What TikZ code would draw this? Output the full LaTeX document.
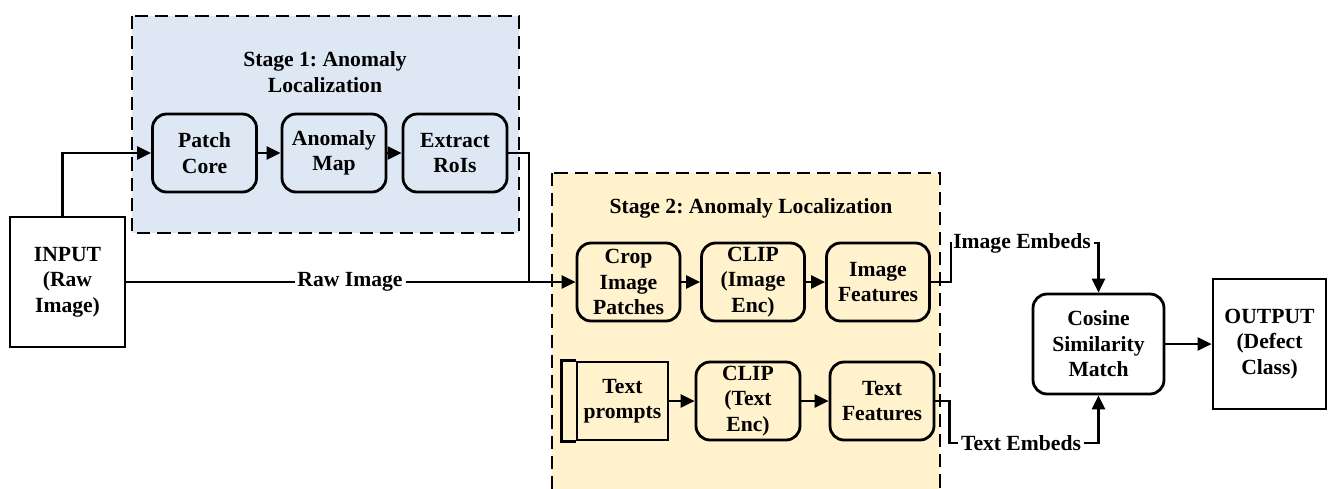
\documentclass[tikz,border=0pt]{standalone}
\usepackage{fontspec}
\setmainfont{Liberation Serif}[BoldFont={Liberation Serif Bold}]
\usetikzlibrary{arrows.meta,calc}
\definecolor{stageblue}{HTML}{DEE8F4}
\definecolor{stageyellow}{HTML}{FFF2CC}
\frenchspacing

\begin{document}
\begin{tikzpicture}[x=0.02cm,y=-0.02cm,
  font=\rmfamily\fontsize{12.3}{14.5}\selectfont\bfseries,
  stagebox/.style={draw, line width=1.3pt, dash pattern=on 7.5pt off 4pt},
  procbox/.style={draw, line width=1.6pt, rounded corners=0.28cm, align=center,
    minimum width=2.08cm, minimum height=1.56cm, inner sep=1pt},
  iobox/.style={draw, line width=1.6pt, fill=white, align=center,
    minimum width=2.3cm, minimum height=2.6cm, inner sep=1pt},
  lbl/.style={inner sep=1.5pt},
  link/.style={line width=1.3pt},
  arr/.style={link, -{Triangle[length=8pt,width=7.5pt]}},
]
\useasboundingbox (0,0) rectangle (1328,488);

% stage frames
\draw[stagebox, fill=stageblue] (132,16) rectangle (519,233);
\draw[stagebox, fill=stageyellow] (552,173) rectangle (940,500);

\node[align=center] (t1) at (325,72) {Stage 1: Anomaly\\Localization};
\node (t2) at (751,208) {Stage 2: Anomaly Localization};

% input / output
\node[iobox] (in) at (67.5,282) {INPUT\\(Raw\\Image)};
\node[iobox, minimum width=2.26cm] (out) at (1269.5,344) {OUTPUT\\(Defect\\Class)};

% stage 1 pipeline
\node[procbox] (pc)  at (204.5,153) {Patch\\Core};
\node[procbox] (am)  at (334,153)   {Anomaly\\Map};
\node[procbox] (roi) at (455,153)   {Extract\\RoIs};

% stage 2 image branch
\node[procbox, fill=stageyellow, minimum width=2.06cm] (crop)  at (628.5,282) {Crop\\Image\\Patches};
\node[procbox, fill=stageyellow, minimum width=2.06cm] (clipi) at (753,282)   {CLIP\\(Image\\Enc)};
\node[procbox, fill=stageyellow, minimum width=2.06cm] (imgf)  at (878,282)   {Image\\Features};

% stage 2 text branch
\node[draw, line width=1.6pt, align=center, minimum width=1.82cm,
  minimum height=1.56cm, inner sep=1pt] (tp) at (622.5,401) {Text\\prompts};
\draw[line width=1.6pt] (tp.north west) -- ++(-14,0) |- (tp.south west);
\node[procbox, fill=stageyellow, minimum width=2.08cm] (clipt) at (748,401) {CLIP\\(Text\\Enc)};
\node[procbox, fill=stageyellow, minimum width=2.08cm] (tf)    at (882,401) {Text\\Features};

% matching
\node[procbox, fill=white, minimum width=2.62cm, minimum height=2.0cm] (cos) at (1098.5,344)
  {Cosine\\Similarity\\Match};

% labels on connectors
\node[lbl] (raw) at (350,282)  {Raw Image};
\node[lbl] (ie)  at (1022,243) {Image Embeds};
\node[lbl] (te)  at (1021,443) {Text Embeds};
\coordinate (j) at (529,282);

% connectors
\draw[arr] ([xshift=-0.1cm]in.north) |- (pc.west);
\draw[arr] (pc) -- (am);
\draw[arr] (am) -- (roi);
\draw[link] (roi.east) -| (j);
\draw[link] (in.east) -- (raw.west);
\draw[arr] (raw.east) -- (crop.west);
\draw[arr] (crop) -- (clipi);
\draw[arr] (clipi) -- (imgf);
\draw[arr] (tp) -- (clipt);
\draw[arr] (clipt) -- (tf);
\draw[link] (imgf.east) -- ++(20,0) |- (ie.west);
\draw[arr] (ie.east) -| (cos.north);
\draw[link] (tf.east) -- ++(14,0) |- (te.west);
\draw[arr] (te.east) -| (cos.south);
\draw[arr] (cos.east) -- (out.west);
\end{tikzpicture}
\end{document}
